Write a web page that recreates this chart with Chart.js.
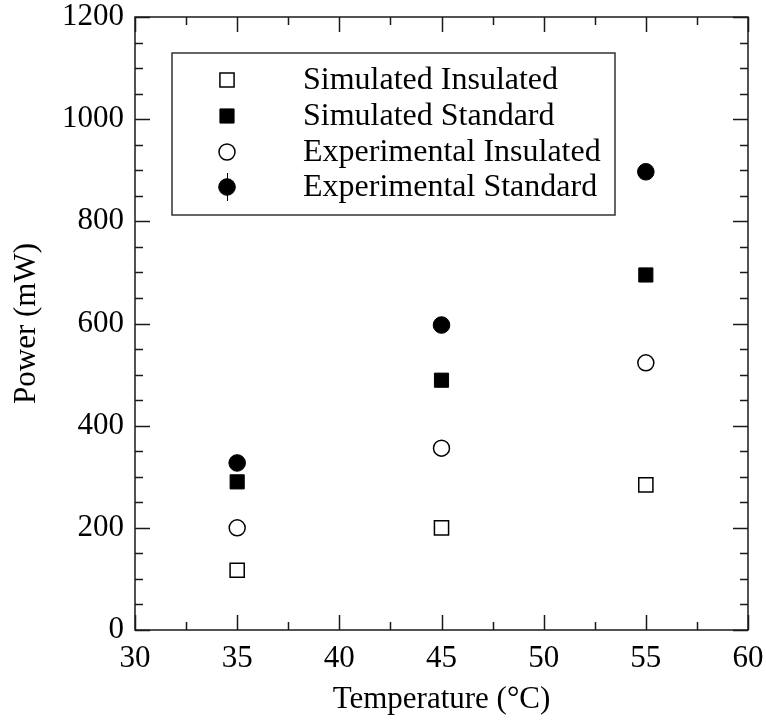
<!DOCTYPE html>
<html>
<head>
<meta charset="utf-8">
<script src="https://cdn.jsdelivr.net/npm/chart.js@4/dist/chart.umd.min.js"></script>
<style>
    html, body { margin: 0; padding: 0; background: #fff; }
    #wrap { width: 766px; height: 721px; }
</style>
</head>
<body>
<div id="wrap"><canvas id="power-chart" width="766" height="721"></canvas></div>
<script>
/* ---- data ---- */
const temps = [35, 45, 55];
const simInsulated = [117, 200, 284];
const simStandard = [290, 489, 695];
const expInsulated = [200, 356, 523];
const expStandard = [327, 597, 897];

const xTicks = [30, 35, 40, 45, 50, 55, 60];
const yTicks = [0, 200, 400, 600, 800, 1000, 1200];
const xMinorStep = 2.5;
const yMinorStep = 50;

const seriesNames = ['Simulated Insulated', 'Simulated Standard', 'Experimental Insulated', 'Experimental Standard'];

const FONT = '"Liberation Serif", "Times New Roman", serif';
const INK = '#1a1a1a';

function toPoints(values) {
    return temps.map((t, i) => ({ x: t, y: values[i] }));
}

// keep label overhang from pushing the plot area around
function noOverhang(s) {
    s.paddingLeft = 0;
    s.paddingRight = 0;
    s.paddingTop = 0;
    s.paddingBottom = 0;
}

// frame + inward ticks on all four sides, and the boxed legend
const frameAndLegend = {
    id: 'frameAndLegend',
    afterDraw(chart) {
        const ctx = chart.ctx;
        const area = chart.chartArea;
        const xs = chart.scales.x;
        const ys = chart.scales.y;
        const majorLen = 15, minorLen = 8;

        ctx.save();
        ctx.strokeStyle = INK;
        ctx.lineWidth = 1.5;
        ctx.strokeRect(area.left, area.top, area.right - area.left, area.bottom - area.top);

        ctx.beginPath();
        const x0 = xTicks[0], x1 = xTicks[xTicks.length - 1];
        for (let v = x0; v <= x1 + 1e-9; v += xMinorStep) {
            const len = xTicks.includes(v) ? majorLen : minorLen;
            const px = Math.round(xs.getPixelForValue(v)) + 0.5;
            ctx.moveTo(px, area.bottom); ctx.lineTo(px, area.bottom - len);
            ctx.moveTo(px, area.top); ctx.lineTo(px, area.top + len);
        }
        const y0 = yTicks[0], y1 = yTicks[yTicks.length - 1];
        for (let v = y0; v <= y1 + 1e-9; v += yMinorStep) {
            const len = yTicks.includes(v) ? majorLen : minorLen;
            const py = Math.round(ys.getPixelForValue(v)) + 0.5;
            ctx.moveTo(area.left, py); ctx.lineTo(area.left + len, py);
            ctx.moveTo(area.right, py); ctx.lineTo(area.right - len, py);
        }
        ctx.stroke();

        // legend box
        const box = { left: 172, top: 53, right: 615, bottom: 215 };
        ctx.lineWidth = 1.5;
        ctx.strokeStyle = '#333';
        ctx.strokeRect(box.left, box.top, box.right - box.left, box.bottom - box.top);

        const rowY = [80, 116, 152, 187];
        const markX = 227, textX = 303;
        ctx.font = '32px ' + FONT;
        ctx.textAlign = 'left';
        ctx.textBaseline = 'middle';
        chart.data.datasets.forEach((ds, i) => {
            const y = rowY[i];
            if (i === 3) {
                ctx.beginPath();
                ctx.strokeStyle = '#000';
                ctx.lineWidth = 1;
                ctx.moveTo(markX + 0.5, y - 14); ctx.lineTo(markX + 0.5, y + 14);
                ctx.stroke();
            }
            ctx.fillStyle = ds.pointBackgroundColor;
            ctx.strokeStyle = ds.pointBorderColor;
            ctx.lineWidth = ds.pointBorderWidth;
            Chart.helpers.drawPoint(ctx, {
                pointStyle: ds.pointStyle,
                radius: ds.pointRadius,
                borderWidth: ds.pointBorderWidth,
                rotation: 0
            }, markX, y);
            ctx.fillStyle = '#000';
            ctx.fillText(ds.label, textX, y + 1);
        });
        ctx.restore();
    }
};

const canvas = document.getElementById('power-chart');
const chart = new Chart(canvas.getContext('2d'), {
    type: 'scatter',
    data: {
        datasets: [
            {
                label: seriesNames[0],
                data: toPoints(simInsulated),
                pointStyle: 'rect',
                pointRadius: 10,
                pointBackgroundColor: '#fff',
                pointBorderColor: '#000',
                pointBorderWidth: 1.5
            },
            {
                label: seriesNames[1],
                data: toPoints(simStandard),
                pointStyle: 'rect',
                pointRadius: 10,
                pointBackgroundColor: '#000',
                pointBorderColor: '#000',
                pointBorderWidth: 1
            },
            {
                label: seriesNames[2],
                data: toPoints(expInsulated),
                pointStyle: 'circle',
                pointRadius: 8,
                pointBackgroundColor: '#fff',
                pointBorderColor: '#000',
                pointBorderWidth: 1.5
            },
            {
                label: seriesNames[3],
                data: toPoints(expStandard),
                pointStyle: 'circle',
                pointRadius: 8.3,
                pointBackgroundColor: '#000',
                pointBorderColor: '#000',
                pointBorderWidth: 1
            }
        ]
    },
    options: {
        responsive: false,
        animation: false,
        events: [],
        layout: { padding: { top: 17, right: 18, left: 0, bottom: 0 } },
        plugins: {
            legend: { display: false },
            tooltip: { enabled: false }
        },
        scales: {
            x: {
                type: 'linear',
                min: xTicks[0],
                max: xTicks[xTicks.length - 1],
                afterBuildTicks: s => { s.ticks = xTicks.map(v => ({ value: v })); },
                afterFit: s => { s.height = 91; noOverhang(s); },
                grid: { display: false, drawTicks: false },
                border: { display: false },
                ticks: {
                    color: '#000',
                    padding: 10,
                    maxRotation: 0,
                    callback: v => String(v),
                    font: { family: FONT, size: 31 }
                },
                title: {
                    display: true,
                    text: 'Temperature (°C)',
                    color: '#000',
                    padding: { top: 0, bottom: 3 },
                    font: { family: FONT, size: 31, lineHeight: 1.2 }
                }
            },
            y: {
                type: 'linear',
                min: yTicks[0],
                max: yTicks[yTicks.length - 1],
                afterBuildTicks: s => { s.ticks = yTicks.map(v => ({ value: v })); },
                afterFit: s => { s.width = 135; noOverhang(s); },
                grid: { display: false, drawTicks: false },
                border: { display: false },
                ticks: {
                    color: '#000',
                    padding: 11,
                    callback: v => String(v),
                    font: { family: FONT, size: 31 }
                },
                title: {
                    display: true,
                    text: 'Power (mW)',
                    color: '#000',
                    padding: { top: 8, bottom: 0 },
                    font: { family: FONT, size: 31, lineHeight: 1.2 }
                }
            }
        }
    },
    plugins: [frameAndLegend]
});
</script>
</body>
</html>
